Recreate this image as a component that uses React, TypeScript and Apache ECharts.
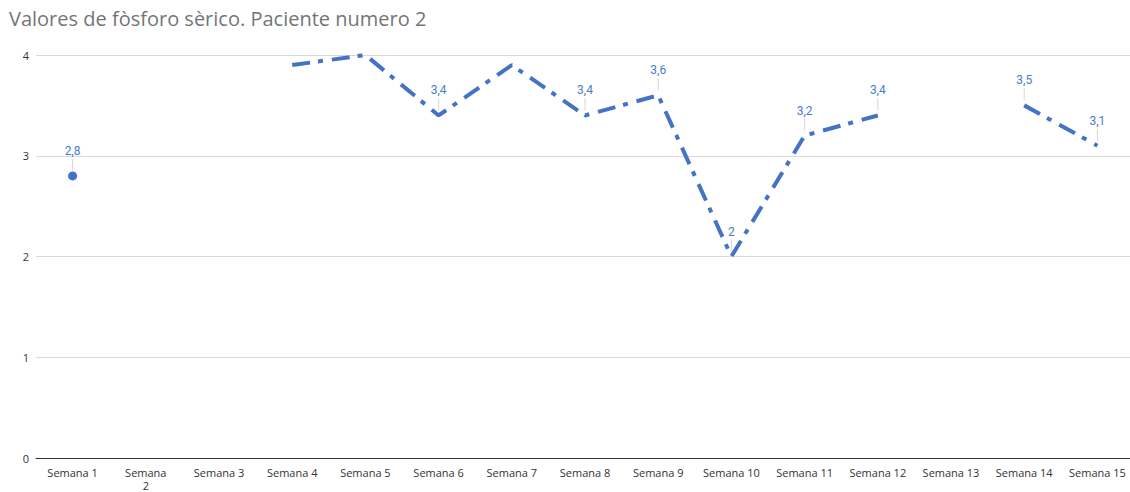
import React, { useEffect, useRef } from "react";
import * as echarts from "echarts";

const titleText = "Valores de fòsforo sèrico. Paciente numero 2";
const categories = [
  "Semana 1", "Semana\n2", "Semana 3", "Semana 4", "Semana 5", "Semana 6", "Semana 7", "Semana 8",
  "Semana 9", "Semana 10", "Semana 11", "Semana 12", "Semana 13", "Semana 14", "Semana 15",
];
const values: (number | null)[] = [2.8, null, null, 3.9, 4.0, 3.4, 3.9, 3.4, 3.6, 2, 3.2, 3.4, null, 3.5, 3.1];
const showLabel: boolean[] = [true, false, false, false, false, true, false, true, true, true, true, true, false, true, true];
const yTicks = { min: 0, max: 4, interval: 1 };

const BLUE = "#4472C4";

export default function App() {
  const ref = useRef<HTMLDivElement>(null);
  useEffect(() => {
    if (!ref.current) return;
    const chart = echarts.init(ref.current, null, { renderer: "svg" });
    const isIsolated = (i: number) =>
      values[i] != null && (i === 0 || values[i - 1] == null) && (i === values.length - 1 || values[i + 1] == null);
    const fmt = (v: number) => String(v).replace(".", ",");
    chart.setOption({
      animation: false,
      title: {
        text: titleText,
        left: 4,
        top: 3,
        textStyle: { fontFamily: "Open Sans", fontSize: 20, fontWeight: "normal", color: "#757575" },
      },
      grid: { left: 36, width: 1098, top: 55, bottom: 33, containLabel: false },
      xAxis: {
        type: "category",
        data: categories,
        boundaryGap: true,
        axisLine: { lineStyle: { color: "#333", width: 1 } },
        axisTick: { show: false },
        axisLabel: { color: "#333", fontSize: 11, fontFamily: "Open Sans", margin: 8, interval: 0, lineHeight: 13 },
      },
      yAxis: {
        type: "value",
        ...yTicks,
        axisLine: { show: false },
        axisTick: { show: false },
        splitLine: { lineStyle: { color: "#d9d9d9" } },
        axisLabel: { color: "#333", fontSize: 11, fontFamily: "Open Sans", margin: 7 },
      },
      series: [
        {
          type: "line",
          data: values,
          showSymbol: false,
          symbol: "none",
          connectNulls: false,
          silent: true,
          lineStyle: { color: BLUE, width: 4, type: [18, 8, 5, 9], cap: "butt" },
          itemStyle: { color: BLUE },
          z: 2,
        },
        {
          type: "scatter",
          data: values.map((v, i) => (isIsolated(i) ? v : null)),
          symbol: "circle",
          symbolSize: 9,
          silent: true,
          itemStyle: { color: BLUE, opacity: 1 },
          z: 3,
        },
        {
          type: "scatter",
          data: values.map((v, i) => (showLabel[i] ? v : null)),
          symbol: "rect",
          symbolSize: [1, 12],
          symbolOffset: [0, -11],
          silent: true,
          itemStyle: { color: "#d6d6d6", opacity: 1 },
          z: 1,
          label: {
            show: true,
            color: "#4a7bd0",
            fontFamily: "Roboto",
            fontSize: 12,
            position: "top",
            distance: 2,
            formatter: (p: any) => fmt(p.value),
          },
        },
      ],
    });
    return () => chart.dispose();
  }, []);
  return (
    <div style={{ position: "absolute", left: 0, top: 0, width: 1130, height: 492, overflow: "hidden" }}>
      <div ref={ref} style={{ width: 1140, height: 492 }} />
    </div>
  );
}
